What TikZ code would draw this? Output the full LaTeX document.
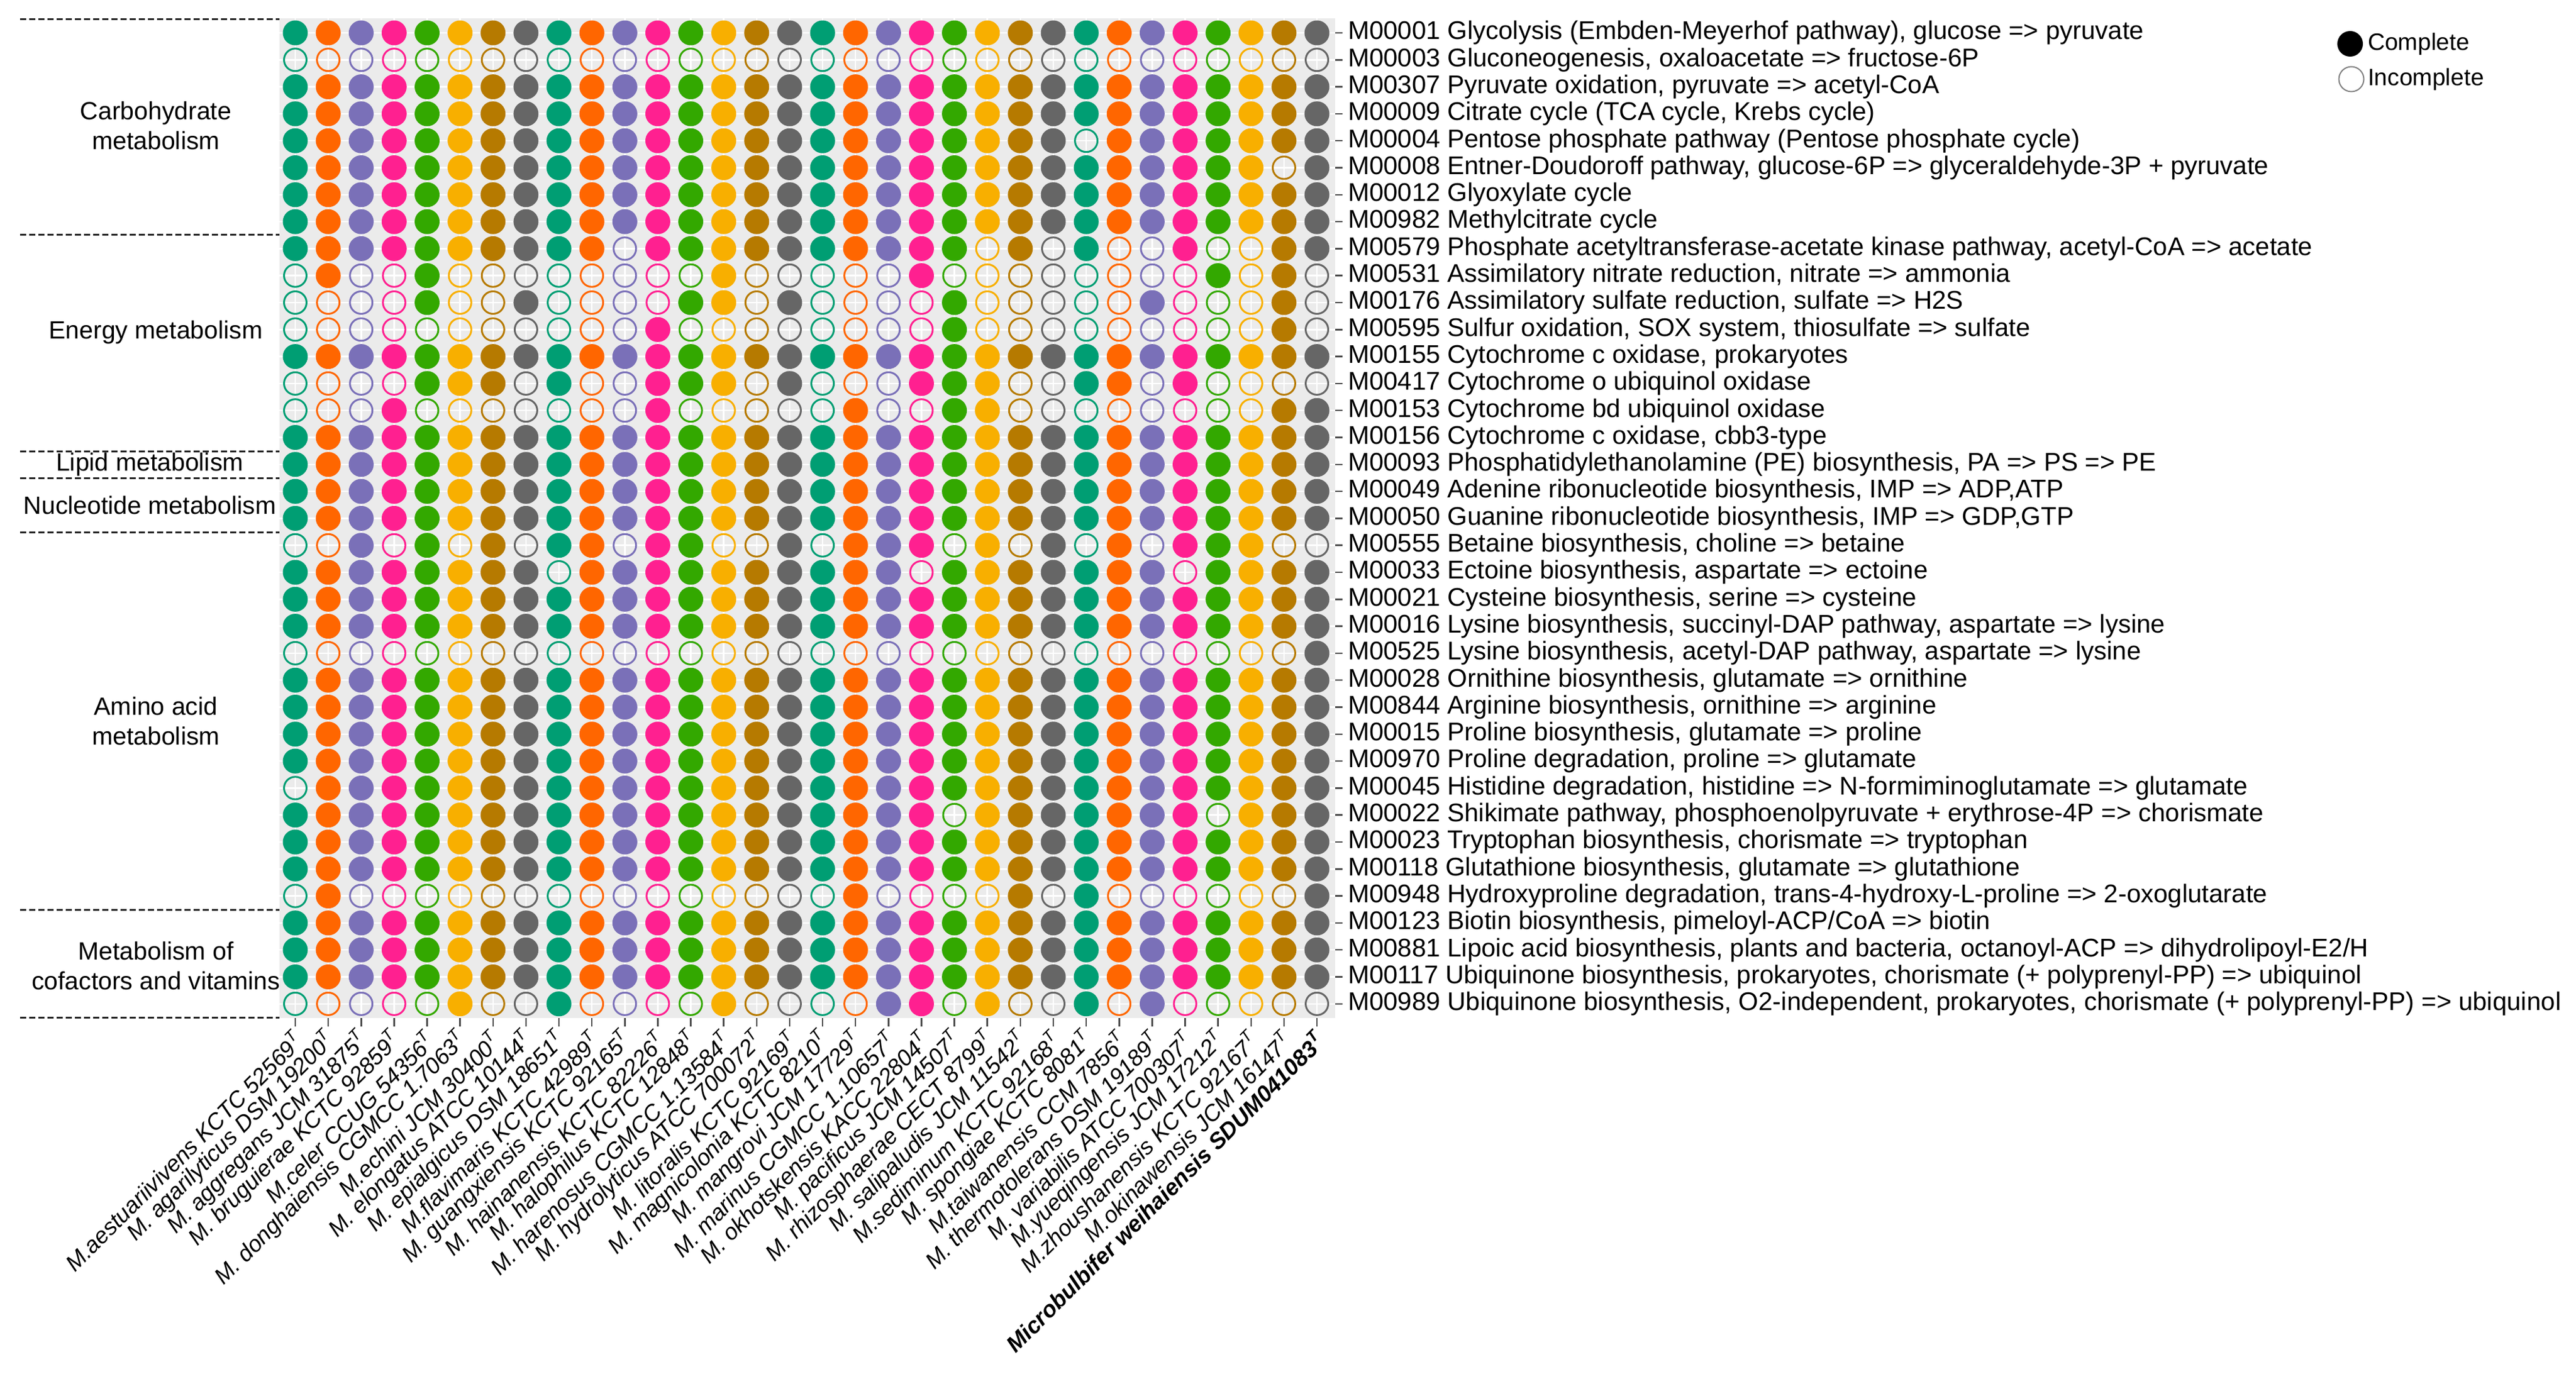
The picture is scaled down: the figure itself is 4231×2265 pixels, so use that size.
\documentclass[tikz,border=0pt]{standalone}
\usepackage{fontspec}
\setmainfont{Liberation Sans}
\usepackage{xstring}
\definecolor{c0}{HTML}{009E73}
\definecolor{c1}{HTML}{FF6600}
\definecolor{c2}{HTML}{7A70B8}
\definecolor{c3}{HTML}{FF2090}
\definecolor{c4}{HTML}{33A800}
\definecolor{c5}{HTML}{F8AF00}
\definecolor{c6}{HTML}{B67A00}
\definecolor{c7}{HTML}{666666}
\definecolor{panel}{HTML}{EBEBEB}
\tikzset{
  dashsep/.style={line width=0.6pt, dash pattern=on 2pt off 1pt, black!85},
  cat/.style={font=\fontsize{8.2}{9.8}\selectfont, align=center},
  rowlab/.style={font=\fontsize{8.4}{9}\selectfont, anchor=west, inner sep=0},
  collab/.style={font=\fontsize{7.5}{8}\selectfont\itshape, anchor=east, rotate=45, inner sep=0},
  tick/.style={line width=0.5pt, black!70},
  legtxt/.style={font=\fontsize{7.8}{8}\selectfont, anchor=west, inner sep=0},
}
\begin{document}
\begin{tikzpicture}[x=0.2pt,y=-0.2pt]
\useasboundingbox (0,0) rectangle (4231,2265);
\def\cx#1{485+(#1-1)*54.13}
\def\cy#1{54+(#1-1)*44.3}
% panel
\fill[panel] (459,30) rectangle (2193,1672);
\foreach \i in {1,...,37} \draw[white,line width=0.5pt] (459,{\cy{\i}}) -- (2193,{\cy{\i}});
\foreach \j in {1,...,32} \draw[white,line width=0.5pt] ({\cx{\j}},30) -- ({\cx{\j}},1672);
% dots
\foreach \s [count=\i] in {
11111111111111111111111111111111,
00000000000000000000000000000000,
11111111111111111111111111111111,
11111111111111111111111111111111,
11111111111111111111111101111111,
11111111111111111111111111111101,
11111111111111111111111111111111,
11111111111111111111111111111111,
11111111110111111111101010010011,
01001000000001000001000000001010,
00001001000011010000100000100010,
00000000000100000000100000000010,
11111111111111111111111111111111,
00001110100111010001110011010000,
00010000000100000100110000000011,
11111111111111111111111111111111,
11111111111111111111111111111111,
11111111111111111111111111111111,
11111111111111111111111111111111,
00101010110110010111010101011100,
11111111011111111110111111101111,
11111111111111111111111111111111,
11111111111111111111111111111111,
00000000000000000000000000000001,
11111111111111111111111111111111,
11111111111111111111111111111111,
11111111111111111111111111111111,
11111111111111111111111111111111,
01111111111111111111111111111111,
11111111111111111111011111110111,
11111111111111111111111111111111,
11111111111111111111111111111111,
01000000000000000100001010000001,
11111111111111111111111111111111,
11111111111111111111111111111111,
11111111111111111111111111111111,
00000100100001000011010010100000}{
  \foreach \j in {1,...,32}{
    \StrChar{\s}{\j}[\ch]
    \pgfmathtruncatemacro\k{mod(\j-1,8)}
    \ifnum\ch=1
      \fill[c\k] ({\cx{\j}},{\cy{\i}}) circle (20.5);
    \else
      \draw[c\k,line width=0.6pt] ({\cx{\j}},{\cy{\i}}) circle (18.5);
    \fi
  }
}
% row labels
\foreach \t [count=\i] in {
M00001 Glycolysis (Embden-Meyerhof pathway){,} glucose => pyruvate,
M00003 Gluconeogenesis{,} oxaloacetate => fructose-6P,
M00307 Pyruvate oxidation{,} pyruvate => acetyl-CoA,
M00009 Citrate cycle (TCA cycle{,} Krebs cycle),
M00004 Pentose phosphate pathway (Pentose phosphate cycle),
M00008 Entner-Doudoroff pathway{,} glucose-6P => glyceraldehyde-3P + pyruvate,
M00012 Glyoxylate cycle,
M00982 Methylcitrate cycle,
M00579 Phosphate acetyltransferase-acetate kinase pathway{,} acetyl-CoA => acetate,
M00531 Assimilatory nitrate reduction{,} nitrate => ammonia,
M00176 Assimilatory sulfate reduction{,} sulfate => H2S,
M00595 Sulfur oxidation{,} SOX system{,} thiosulfate => sulfate,
M00155 Cytochrome c oxidase{,} prokaryotes,
M00417 Cytochrome o ubiquinol oxidase,
M00153 Cytochrome bd ubiquinol oxidase,
M00156 Cytochrome c oxidase{,} cbb3-type,
M00093 Phosphatidylethanolamine (PE) biosynthesis{,} PA => PS => PE,
M00049 Adenine ribonucleotide biosynthesis{,} IMP => ADP{,}ATP,
M00050 Guanine ribonucleotide biosynthesis{,} IMP => GDP{,}GTP,
M00555 Betaine biosynthesis{,} choline => betaine,
M00033 Ectoine biosynthesis{,} aspartate => ectoine,
M00021 Cysteine biosynthesis{,} serine => cysteine,
M00016 Lysine biosynthesis{,} succinyl-DAP pathway{,} aspartate => lysine,
M00525 Lysine biosynthesis{,} acetyl-DAP pathway{,} aspartate => lysine,
M00028 Ornithine biosynthesis{,} glutamate => ornithine,
M00844 Arginine biosynthesis{,} ornithine => arginine,
M00015 Proline biosynthesis{,} glutamate => proline,
M00970 Proline degradation{,} proline => glutamate,
M00045 Histidine degradation{,} histidine => N-formiminoglutamate => glutamate,
M00022 Shikimate pathway{,} phosphoenolpyruvate + erythrose-4P => chorismate,
M00023 Tryptophan biosynthesis{,} chorismate => tryptophan,
M00118 Glutathione biosynthesis{,} glutamate => glutathione,
M00948 Hydroxyproline degradation{,} trans-4-hydroxy-L-proline => 2-oxoglutarate,
M00123 Biotin biosynthesis{,} pimeloyl-ACP/CoA => biotin,
M00881 Lipoic acid biosynthesis{,} plants and bacteria{,} octanoyl-ACP => dihydrolipoyl-E2/H,
M00117 Ubiquinone biosynthesis{,} prokaryotes{,} chorismate (+ polyprenyl-PP) => ubiquinol,
M00989 Ubiquinone biosynthesis{,} O2-independent{,} prokaryotes{,} chorismate (+ polyprenyl-PP) => ubiquinol}{
  \draw[tick] (2193,{\cy{\i}}) -- (2205,{\cy{\i}});
  \node[rowlab] (r\i) at (2213,{\cy{\i}}) {\t};
}
% column labels
\foreach \t [count=\j] in {
M.aestuariivivens KCTC 52569, M. agarilyticus DSM 19200, M. aggregans JCM 31875,
M. bruguierae KCTC 92859, M.celer CCUG 54356, M. donghaiensis CGMCC 1.7063,
M.echini JCM 30400, M. elongatus ATCC 10144, M. epialgicus DSM 18651,
M.flavimaris KCTC 42989, M. guangxiensis KCTC 92165, M. hainanensis KCTC 82226,
M. halophilus KCTC 12848, M. harenosus CGMCC 1.13584, M. hydrolyticus ATCC 700072,
M. litoralis KCTC 92169, M. magnicolonia KCTC 8210, M. mangrovi JCM 17729,
M. marinus CGMCC 1.10657, M. okhotskensis KACC 22804, M. pacificus JCM 14507,
M. rhizosphaerae CECT 8799, M. salipaludis JCM 11542, M.sediminum KCTC 92168,
M. spongiae KCTC 8081, M.taiwanensis CCM 7856, M. thermotolerans DSM 19189,
M. variabilis ATCC 700307, M.yueqingensis JCM 17212, M.zhoushanensis KCTC 92167,
M.okinawensis JCM 16147, \textbf{Microbulbifer weihaiensis SDUM041083}}{
  \draw[tick] ({\cx{\j}},1672) -- ({\cx{\j}},1686);
  \node[collab] (x\j) at ({\cx{\j}+6},1700) {\t\textsuperscript{\ifnum\j=32 \bfseries\fi T}};
}
% category separators
\foreach \yy in {32,386,741,785,874,1494,1671} \draw[dashsep] (33,\yy) -- (459,\yy);
\node[cat] (g1) at (256,206) {Carbohydrate\\metabolism};
\node[cat] (g2) at (256,546) {Energy metabolism};
\node[cat] (g3) at (246,763) {Lipid metabolism};
\node[cat] (g4) at (246,830) {Nucleotide metabolism};
\node[cat] (g5) at (256,1184) {Amino acid\\metabolism};
\node[cat] (g6) at (256,1586) {Metabolism of\\cofactors and vitamins};
% legend
\fill[black] (3860,72) circle (21);
\draw[black!50,line width=0.4pt] (3862,130) circle (20.5);
\node[legtxt] (l1) at (3888,72) {Complete};
\node[legtxt] (l2) at (3888,130) {Incomplete};
\end{tikzpicture}
\end{document}
